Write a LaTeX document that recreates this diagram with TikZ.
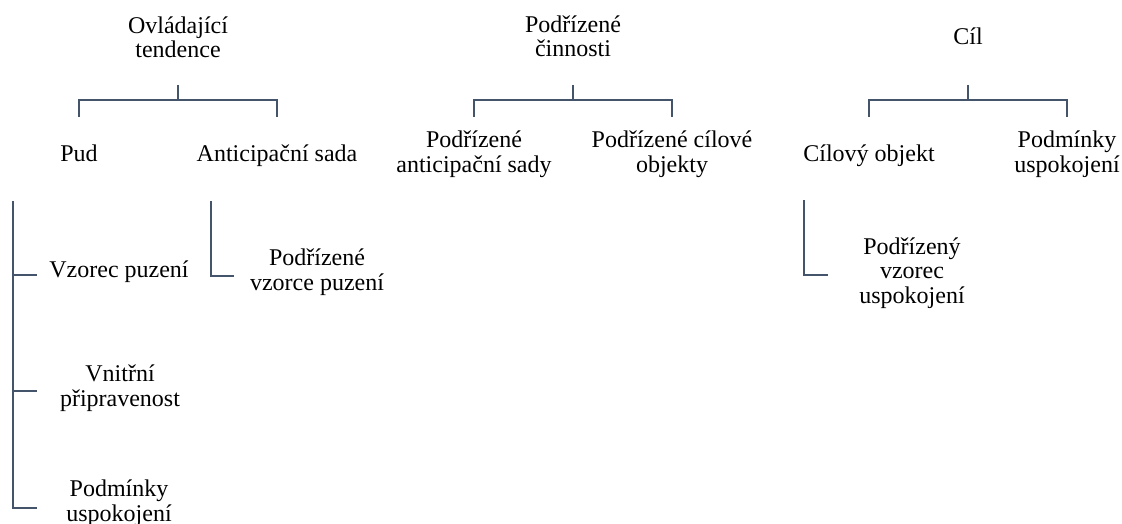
\documentclass[tikz,border=0pt]{standalone}
\usepackage{fontspec}
\setmainfont{Liberation Serif}
\definecolor{brcol}{HTML}{44546A}
\tikzset{
  lbl/.style={align=center, anchor=base, inner sep=0pt,
    font=\fontsize{24}{24.5}\selectfont},
  br/.style={draw=brcol, line width=2.6pt},
}
\begin{document}
\begin{tikzpicture}[x=1pt,y=-1pt]
\useasboundingbox (0,0) rectangle (1122,524);
% top level
\node[lbl] (tend) at (178,58) {Ovládající\\tendence};
\node[lbl] (cinn) at (573,57) {Podřízené\\činnosti};
\node[lbl] (cil) at (968,45) {Cíl};
% second level
\node[lbl] (pud) at (79,162) {Pud};
\node[lbl] (antic) at (277,162) {Anticipační sada};
\node[lbl] (pantic) at (474,172) {Podřízené\\anticipační sady};
\node[lbl] (pcil) at (672,172) {Podřízené cílové\\objekty};
\node[lbl] (cobj) at (869,162) {Cílový objekt};
\node[lbl] (uspok) at (1067,172) {Podmínky\\uspokojení};
% third level
\node[lbl] (vzor) at (119,277) {Vzorec puzení};
\node[lbl] (vnitr) at (120,406) {Vnitřní\\připravenost};
\node[lbl] (podm) at (119,521) {Podmínky\\uspokojení};
\node[lbl] (pvzor) at (317,290) {Podřízené\\vzorce puzení};
\node[lbl] (pvusp) at (912,303) {Podřízený\\vzorec\\uspokojení};
% brackets below the top level
\draw[br] (tend.center |- 0,85) -- (tend.center |- 0,100);
\draw[br] (pud.center |- 0,117) -- (pud.center |- 0,100) -- (antic.center |- 0,100) -- (antic.center |- 0,117);
\draw[br] (cinn.center |- 0,85) -- (cinn.center |- 0,100);
\draw[br] (pantic.center |- 0,117) -- (pantic.center |- 0,100) -- (pcil.center |- 0,100) -- (pcil.center |- 0,117);
\draw[br] (cil.center |- 0,85) -- (cil.center |- 0,100);
\draw[br] (cobj.center |- 0,117) -- (cobj.center |- 0,100) -- (uspok.center |- 0,100) -- (uspok.center |- 0,117);
% side brackets
\coordinate (pudb) at (13,201);
\coordinate (vzort) at (37,275);
\coordinate (vnitrt) at (37,391);
\coordinate (podmt) at (37,508);
\draw[br] (pudb) |- (podmt);
\draw[br] (pudb |- vzort) -- (vzort);
\draw[br] (pudb |- vnitrt) -- (vnitrt);
\coordinate (anticb) at (211,201);
\coordinate (pvzort) at (234,276);
\draw[br] (anticb) |- (pvzort);
\coordinate (cobjb) at (804,200);
\coordinate (pvuspt) at (828,275);
\draw[br] (cobjb) |- (pvuspt);
\end{tikzpicture}
\end{document}
